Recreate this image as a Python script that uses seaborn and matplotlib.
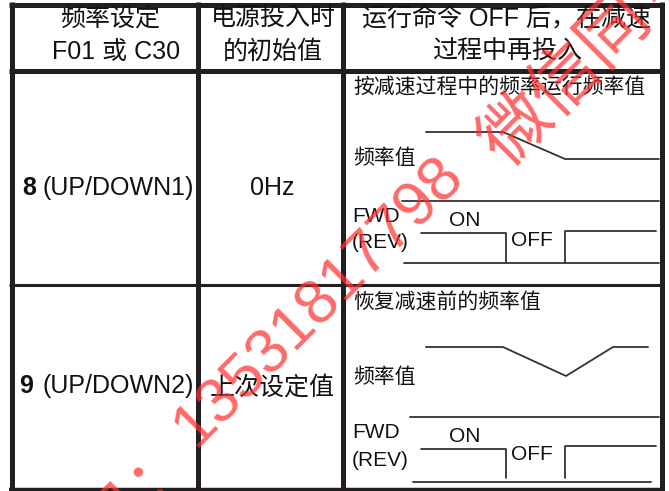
import matplotlib
matplotlib.use("Agg")
import matplotlib.pyplot as plt
import seaborn as sns

sns.set_theme(style="white")
FAM = ["Liberation Sans", "Noto Sans CJK SC", "DejaVu Sans"]
plt.rcParams["font.family"] = FAM

# ---- table structure ----
col_edges = [11.5, 197.5, 343.0, 661.5]
row_edges = [4.5, 70.5, 284.5, 489.5]

header_col1 = ["频率设定", "F01 或 C30"]
header_col2 = ["电源投入时", "的初始值"]
header_col3 = ["运行命令 OFF 后，在减速", "过程中再投入"]

row_codes = ["8", "9"]
row_names = ["(UP/DOWN1)", "(UP/DOWN2)"]
row_initial = ["0Hz", "上次设定值"]
row_desc = ["按减速过程中的频率运行频率值", "恢复减速前的频率值"]

# ---- waveforms (diagram coordinates) ----
freq1_x = [426, 503, 565, 659]
freq1_y = [132, 132, 159, 159]
sep1_x = [402, 659]
sep1_y = [201, 201]
fwd1a_x = [421, 506, 506]
fwd1a_y = [233, 233, 263]
base1_x = [404, 659]
base1_y = [263, 263]
fwd1b_x = [565, 565, 656]
fwd1b_y = [263, 231, 231]

freq2_x = [426, 503, 566, 613, 648]
freq2_y = [347, 347, 376, 347, 347]
sep2_x = [410, 659]
sep2_y = [417, 417]
fwd2a_x = [421, 506, 506]
fwd2a_y = [449, 449, 478]
base2_x = [413, 651]
base2_y = [482, 482]
fwd2b_x = [565, 565, 656]
fwd2b_y = [478, 446, 446]

fig = plt.figure(figsize=(6.69, 4.91), dpi=100)
ax = fig.add_axes([0, 0, 1, 1])

ink = "#231f20"
# grid lines
for x in col_edges:
    ax.plot([x, x], [2, 491], color=ink, lw=3.6, solid_capstyle="butt")
ax.plot([9, 664], [row_edges[0]] * 2, color=ink, lw=3.6, solid_capstyle="butt")
ax.plot([9, 664], [row_edges[1]] * 2, color=ink, lw=3.6, solid_capstyle="butt")
ax.plot([9, 664], [row_edges[2]] * 2, color=ink, lw=2.2, solid_capstyle="butt")
ax.plot([9, 664], [row_edges[3]] * 2, color=ink, lw=3.2, solid_capstyle="butt")

# header
hs = 18
ax.text(110, 19, header_col1[0], ha="center", va="center", fontsize=hs, color="#111")
ax.text(116, 52, header_col1[1], ha="center", va="center", fontsize=hs, color="#111")
ax.text(273, 19, header_col2[0], ha="center", va="center", fontsize=hs, color="#111")
ax.text(273, 52, header_col2[1], ha="center", va="center", fontsize=hs, color="#111")
ax.text(506, 19, header_col3[0], ha="center", va="center", fontsize=hs, color="#111")
ax.text(507, 52, header_col3[1], ha="center", va="center", fontsize=hs, color="#111")

# row labels
row_y = [188, 386]
code_x = [22, 19]
name_x = [43, 42]
for i in range(2):
    ax.text(code_x[i], row_y[i], row_codes[i], ha="left", va="center",
            fontsize=hs, fontweight="bold", color="#111")
    ax.text(name_x[i], row_y[i], row_names[i], ha="left", va="center",
            fontsize=hs, color="#111")
    ax.text(272, row_y[i] + (0 if i == 0 else 2), row_initial[i], ha="center",
            va="center", fontsize=hs, color="#111")

# diagrams
ds = 15
desc_y = [88, 302]
freq_lbl_y = [158, 377]
fwd_y = [217, 433]
rev_y = [242, 460]
on_y = [220, 436]
off_y = [240, 455]
for i in range(2):
    ax.text(353, desc_y[i], row_desc[i], ha="left", va="center", fontsize=ds, color="#111")
    ax.text(353, freq_lbl_y[i], "频率值", ha="left", va="center", fontsize=ds, color="#111")
    ax.text(352, fwd_y[i], "FWD", ha="left", va="center", fontsize=ds, color="#111")
    ax.text(352, rev_y[i], "(REV)", ha="left", va="center", fontsize=ds, color="#111")
    ax.text(465, on_y[i], "ON", ha="center", va="center", fontsize=ds, color="#111")
    ax.text(511, off_y[i], "OFF", ha="left", va="center", fontsize=ds, color="#111")

lines = [
    (freq1_x, freq1_y), (sep1_x, sep1_y), (fwd1a_x, fwd1a_y), (base1_x, base1_y),
    (fwd1b_x, fwd1b_y), (freq2_x, freq2_y), (sep2_x, sep2_y), (fwd2a_x, fwd2a_y),
    (base2_x, base2_y), (fwd2b_x, fwd2b_y),
]
for xs, ys in lines:
    sns.lineplot(x=xs, y=ys, ax=ax, color="#333333", lw=1.3, sort=False,
                 estimator=None)

# watermark
wm_color = "#ff3030"
ax.text(118, 514, "手机：", ha="center", va="center", rotation=45,
        rotation_mode="anchor", fontsize=45, color=wm_color, alpha=0.72,
        family=["Noto Sans CJK SC"], zorder=10)
ax.text(319, 302, "13531817798", ha="center", va="center", rotation=45,
        rotation_mode="anchor", fontsize=45, color=wm_color, alpha=0.72,
        zorder=10)
ax.text(591, 55, "微信同号", ha="center", va="center", rotation=45,
        rotation_mode="anchor", fontsize=50, color=wm_color, alpha=0.72,
        family=["Noto Sans CJK SC"], zorder=10)

ax.set_xlim(0, 669)
ax.set_ylim(491, 0)
ax.axis("off")
fig.savefig("out.png", dpi=100)
